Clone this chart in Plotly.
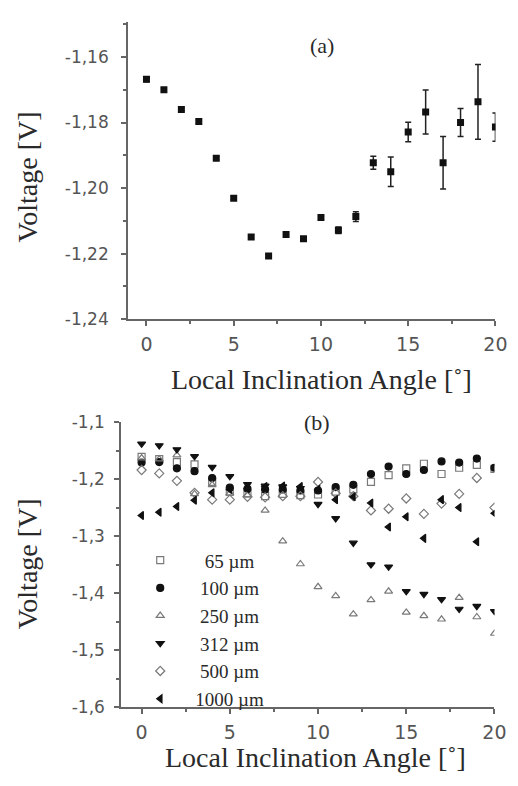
import plotly.graph_objects as go

# ---------- Panel (a) data ----------
angle_a = list(range(0, 21))
voltage_a = [-1.1668, -1.1700, -1.1760, -1.1797, -1.1909, -1.2031, -1.2149,
             -1.2207, -1.2142, -1.2155, -1.2090, -1.2129, -1.2087, -1.1923,
             -1.1950, -1.1829, -1.1768, -1.1923, -1.1800, -1.1737, -1.1814]
error_a = [0.0008, 0.0005, 0.0005, 0.0005, 0.0005, 0.0005, 0.0005, 0.0005,
           0.0005, 0.0005, 0.0008, 0.0010, 0.0015, 0.0020, 0.0045, 0.0030,
           0.0067, 0.0080, 0.0043, 0.0114, 0.0043]

# ---------- Panel (b) data ----------
angle_b = list(range(0, 21))
v_65 = [-1.161, -1.165, -1.170, -1.174, -1.205, -1.222, -1.225, -1.230, -1.226,
        -1.228, -1.227, -1.222, -1.218, -1.205, -1.193, -1.181, -1.173, -1.191,
        -1.180, -1.175, -1.182]
v_100 = [-1.171, -1.170, -1.181, -1.186, -1.198, -1.215, -1.217, -1.218, -1.218,
         -1.220, -1.220, -1.214, -1.210, -1.191, -1.178, -1.191, -1.184, -1.169,
         -1.171, -1.164, -1.180]
v_250 = [-1.163, -1.165, -1.158, -1.226, -1.210, -1.225, -1.228, -1.255, -1.309,
         -1.349, -1.389, -1.405, -1.437, -1.412, -1.397, -1.434, -1.440, -1.446,
         -1.408, -1.442, -1.471]
v_312 = [-1.138, -1.141, -1.148, -1.160, -1.179, -1.195, -1.209, -1.212, -1.213,
         -1.216, -1.244, -1.269, -1.312, -1.350, -1.354, -1.397, -1.402, -1.411,
         -1.428, -1.423, -1.432]
v_500 = [-1.184, -1.190, -1.203, -1.224, -1.236, -1.236, -1.231, -1.232, -1.230,
         -1.230, -1.205, -1.225, -1.230, -1.255, -1.252, -1.234, -1.261, -1.243,
         -1.226, -1.198, -1.250]
v_1000 = [-1.264, -1.258, -1.248, -1.237, -1.224, -1.218, -1.217, -1.213, -1.212,
          -1.213, -1.218, -1.236, -1.231, -1.242, -1.284, -1.266, -1.304, -1.236,
          -1.250, -1.310, -1.260]

series_names = ["\u200765 µm", "\u2005100 µm", "\u2005250 µm", "\u2005312 µm", "\u2005500 µm", "1000 µm"]
series_values = [v_65, v_100, v_250, v_312, v_500, v_1000]
series_symbols = ["square-open", "circle", "triangle-up-open", "triangle-down", "diamond-open", "triangle-left"]
series_colors = ["#7a7a7a", "#111111", "#7a7a7a", "#111111", "#7a7a7a", "#111111"]

# ---------- Tick labels ----------
yticks_a = [-1.16, -1.18, -1.20, -1.22, -1.24]
yticklabels_a = ["-1,16", "-1,18", "-1,20", "-1,22", "-1,24"]
yticks_b = [-1.1, -1.2, -1.3, -1.4, -1.5, -1.6]
yticklabels_b = ["-1,1", "-1,2", "-1,3", "-1,4", "-1,5", "-1,6"]
xticks = [0, 5, 10, 15, 20]
xticklabels = ["0", "5", "10", "15", "20"]

W, H = 518, 786
OFF = 8  # page body margin offset


def px(x):
    return (x - OFF) / W


def py(y):
    return 1 - (y - OFF) / H


AXIS_COLOR = "#666666"
YTICK_FONT = dict(family="DejaVu Sans", size=17, color="#555555")
XTICK_FONT = dict(family="DejaVu Sans", size=19, color="#555555")
SERIF = "Liberation Serif"
TXT = "#2a2a2a"

fig = go.Figure()

fig.add_trace(go.Scatter(
    x=angle_a, y=voltage_a, mode="markers",
    marker=dict(symbol="square", size=7, color="#111111"),
    error_y=dict(type="data", array=error_a, visible=True, color="#222222",
                 thickness=1.5, width=3),
    showlegend=False, xaxis="x", yaxis="y"))

for name, vals, sym, col in zip(series_names, series_values, series_symbols, series_colors):
    fig.add_trace(go.Scatter(
        x=angle_b, y=vals, mode="markers", name=name,
        marker=dict(symbol=sym, size=7, color=col, line=dict(color=col, width=1.2)),
        xaxis="x2", yaxis="y2"))

common_axis = dict(showline=True, linecolor=AXIS_COLOR, linewidth=2, showgrid=False,
                   zeroline=False, ticks="outside", ticklen=5, tickwidth=1.5,
                   tickcolor=AXIS_COLOR)


def ann(text, x, y, size, angle=0):
    return dict(text=text, x=px(x), y=py(y), xref="paper", yref="paper",
                xanchor="center", yanchor="middle", showarrow=False,
                textangle=angle, font=dict(family=SERIF, size=size, color=TXT))


fig.update_layout(
    width=W, height=H,
    margin=dict(l=0, r=0, t=0, b=0),
    paper_bgcolor="white", plot_bgcolor="white",
    xaxis=dict(domain=[px(131), px(507)], anchor="y", range=[-1.05, 20],
               tickvals=xticks, ticktext=xticklabels, tickfont=XTICK_FONT,
               ticklabelstandoff=2,
               minor=dict(dtick=2.5, tick0=0, ticklen=3, tickcolor=AXIS_COLOR, ticks="outside"),
               **common_axis),
    yaxis=dict(domain=[py(317), py(12)], anchor="x", range=[-1.24, -1.1493],
               tickvals=yticks_a, ticktext=yticklabels_a, tickfont=YTICK_FONT,
               ticklabelstandoff=9,
               minor=dict(dtick=0.01, tick0=-1.24, ticklen=3, tickcolor=AXIS_COLOR, ticks="outside"),
               **common_axis),
    xaxis2=dict(domain=[px(124), px(506)], anchor="y2", range=[-1.15, 20],
                tickvals=xticks, ticktext=xticklabels, tickfont=XTICK_FONT,
                ticklabelstandoff=2,
                minor=dict(dtick=2.5, tick0=0, ticklen=3, tickcolor=AXIS_COLOR, ticks="outside"),
                **common_axis),
    yaxis2=dict(domain=[py(715), py(422.7)], anchor="x2", range=[-1.6, -1.1],
                tickvals=yticks_b, ticktext=yticklabels_b, tickfont=YTICK_FONT,
                ticklabelstandoff=6,
                minor=dict(dtick=0.05, tick0=-1.6, ticklen=3, tickcolor=AXIS_COLOR, ticks="outside"),
                **common_axis),
    legend=dict(x=px(128), y=py(545), xanchor="left", yanchor="top",
                bgcolor="rgba(0,0,0,0)", itemwidth=60,
                font=dict(family=SERIF, size=19, color=TXT)),
    annotations=[
        ann("(a)", 329, 36, 22),
        ann("(b)", 324, 423, 22),
        ann("Local Inclination Angle [˚]", 329, 379, 28),
        ann("Local Inclination Angle [˚]", 323, 767, 28),
        ann("Voltage [V]", 28, 171, 28, -90),
        ann("Voltage [V]", 28, 568, 28, -90),
    ],
)

fig.write_html("out.html")
